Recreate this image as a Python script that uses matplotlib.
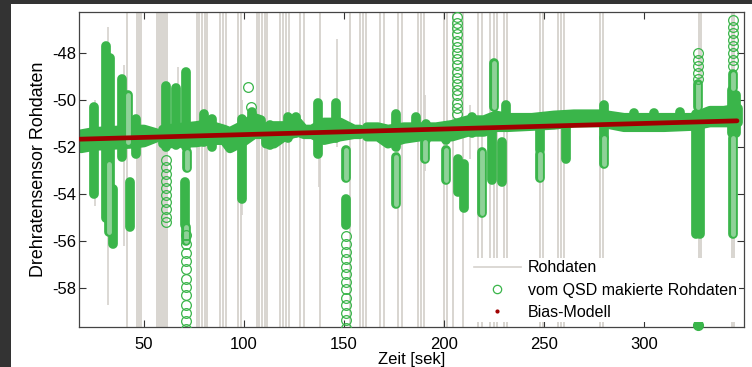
import numpy as np
import matplotlib
matplotlib.use('Agg')
import matplotlib.pyplot as plt
from matplotlib.lines import Line2D
from matplotlib.patches import Rectangle

plt.rcParams['font.family'] = ['Liberation Sans', 'DejaVu Sans']
plt.rcParams['axes.unicode_minus'] = False

GREEN = '#3ab54a'
GRAY = '#d6d2cd'
RED = '#a00000'

# raw data: full height spikes (time in sec)
raw_full_t = [41.5, 46.5, 47.5, 48.5, 56.5, 57.5, 58.5, 59.5, 60.5, 61.5,
              76.5, 77.5, 79, 80.5, 81.5, 88, 89.5, 91, 97, 98.5,
              106.5, 107.5, 109, 110.5, 111.5, 118, 119.5, 121, 122.5,
              128, 130, 138, 153, 158, 159.5, 161, 168, 170, 177, 179,
              187, 188.5, 190, 200, 201.5, 204.5, 209.5, 217, 219, 223,
              225, 226.5, 230, 231.5, 248, 249.5, 257, 258.5, 260, 278,
              279.5, 327.5, 328.5, 344, 345]
# raw data: partial spikes (time, low, high)
raw_part_t = [25.5, 32, 40, 67, 99, 137.5, 146.5, 190.5, 213]
raw_part_lo = [-54.5, -58.7, -56.2, -52.0, -54.9, -53.7, -52.0, -53.0, -52.5]
raw_part_hi = [-50.0, -46.9, -48.5, -48.6, -50.0, -50.0, -47.4, -49.8, -50.2]

# QSD marked data, continuous band (circle centres)
band_t = [18.5, 25, 45, 50, 56, 57.5, 59.5, 76, 80, 86, 90, 93, 100, 105,
          108.5, 109.7, 111, 115, 120, 127, 130, 134, 140, 148, 155, 158,
          159.5, 161.5, 167, 172, 180, 188, 196, 204, 212, 220, 226, 232,
          244, 255, 265, 278, 290, 300, 310, 324, 333, 340, 347]
band_lo = [-52.05, -51.95, -51.85, -51.8, -51.6, np.nan, -51.85, -51.8, -51.75,
           -51.7, -51.7, -52.05, -51.75, -51.45, -51.45, np.nan, -51.85, -51.85,
           -51.55, -51.35, -51.45, -51.45, -51.7, -51.55, -51.45, -51.45, np.nan,
           -51.55, -51.55, -51.85, -51.65, -51.55, -51.55, -51.55, -51.35, -51.35,
           -51.15, -51.15, -51.1, -51.05, -50.95, -50.95, -51.15, -51.15, -51.15,
           -51.1, -50.95, -50.95, -50.95]
band_hi = [-51.45, -51.35, -51.25, -51.25, -51.4, np.nan, -51.25, -51.1, -51.05,
           -51.15, -51.25, -51.35, -51.05, -50.75, -50.85, np.nan, -51.15, -51.1,
           -51.1, -50.95, -51.25, -51.25, -50.95, -50.95, -51.25, -51.25, np.nan,
           -51.15, -51.15, -51.25, -51.15, -51.15, -51.15, -51.05, -50.85, -50.85,
           -50.65, -50.75, -50.75, -50.65, -50.6, -50.6, -50.75, -50.75, -50.75,
           -50.75, -50.45, -50.45, -50.35]

# QSD marked data, dense filled columns (time, low, high)
col_t = [25, 31, 33, 34.5, 39, 43, 46, 61, 66, 71, 70.5, 80, 84, 99, 104,
         113, 122, 126, 137, 146, 151, 176, 186, 191, 201, 207, 210, 214,
         224, 229, 231, 248, 261, 280, 326, 328, 344, 346,
         295, 305, 318]
col_lo = [-54.0, -55.0, -54.3, -56.1, -52.4, -55.4, -52.3, -52.0, -51.9,
          -52.0, -55.3, -51.8, -52.0, -54.2, -51.5, -51.9, -51.6, -51.4,
          -52.3, -51.6, -55.3, -52.0, -51.5, -51.7, -51.7, -53.9, -54.6,
          -51.4, -53.4, -53.5, -51.0, -52.1, -52.5, -51.6, -55.7, -55.7,
          -51.4, -51.4,
          -51.0, -51.0, -51.0]
col_hi = [-50.3, -47.7, -48.2, -53.8, -49.1, -53.5, -50.8, -49.4, -49.5,
          -48.8, -53.5, -50.6, -50.8, -50.8, -50.5, -51.05, -50.7, -50.7,
          -50.1, -50.1, -54.2, -50.6, -50.7, -51.0, -51.1, -52.5, -52.7,
          -50.7, -51.2, -51.8, -50.2, -50.8, -50.8, -50.2, -50.6, -50.6,
          -49.55, -49.8,
          -50.55, -50.55, -50.5]

# QSD marked data, dense hollow columns (time, low, high)
tube_t = [32.5, 42, 71.5, 71, 151, 176, 190.5, 201, 219, 225, 248, 280,
          327, 344.5, 344.5]
tube_lo = [-55.6, -51.8, -52.9, -56.0, -53.3, -54.4, -52.5, -53.4, -54.8,
           -50.3, -53.3, -52.7, -50.3, -55.7, -49.5]
tube_hi = [-52.7, -49.8, -52.2, -55.4, -52.1, -52.4, -51.8, -52.1, -52.2,
           -48.4, -52.3, -51.6, -49.3, -51.6, -48.9]

# QSD marked data, single circles
circ_61 = [-52.55, -52.85, -53.15, -53.45, -53.75, -54.05, -54.35, -54.65,
           -54.95, -55.2]
circ_71 = [-55.75, -56.1, -56.5, -56.85, -57.2, -57.6, -57.95, -58.3, -58.7,
           -59.05, -59.4, -59.75]
circ_151 = [-55.8, -56.1, -56.45, -56.75, -57.1, -57.4, -57.75, -58.05,
            -58.4, -58.7, -59.05, -59.35, -59.7]
circ_206 = [-46.45, -46.7, -46.95, -47.2, -47.5, -47.75, -48.0, -48.25, -48.5,
            -48.8, -49.05, -49.3, -49.55, -49.8, -50.1, -50.35, -50.6]
circ_327 = [-48.0, -48.3, -48.55, -48.85, -49.1]
circ_345 = [-46.6, -46.9, -47.15, -47.45, -47.7, -48.0, -48.3, -48.55]
circ_single_t = [102, 103.5]
circ_single_v = [-49.45, -50.3]
bottom_dot = (327, -59.55)

# bias model
bias_t = [18, 346.5]
bias_v = [-51.66, -50.88]

fig = plt.figure(figsize=(7.52, 3.67), dpi=100)
fig.patch.set_facecolor('white')
# dark frame of the screenshot (left and top strips)
fig.patches.append(Rectangle((0, 0), 11 / 752, 1, transform=fig.transFigure,
                             facecolor='#333333', edgecolor='none', zorder=-1))
fig.patches.append(Rectangle((0, (367 - 4) / 367), 1, 1, transform=fig.transFigure,
                             facecolor='#333333', edgecolor='none', zorder=-1))
ax = fig.add_axes([79 / 752, 40 / 367, 665 / 752, 315 / 367])

ax.vlines(raw_full_t, -62, -44, colors=GRAY, lw=1.3, zorder=1)
ax.vlines(raw_part_t, raw_part_lo, raw_part_hi, colors=GRAY, lw=1.2, zorder=1)

D = 7
ax.fill_between(band_t, band_lo, band_hi, facecolor=GREEN, edgecolor=GREEN,
                lw=D, joinstyle='round', zorder=2)
ax.vlines(col_t, col_lo, col_hi, colors=GREEN, lw=D, capstyle='round', zorder=3)
ax.vlines(tube_t, tube_lo, tube_hi, colors=GREEN, lw=D, capstyle='round', zorder=3)
ax.vlines(tube_t, tube_lo, tube_hi, colors='#8fd298', lw=D - 3.5,
          capstyle='round', zorder=3)

circ = dict(ls='none', marker='o', ms=D, mfc='none', mec=GREEN, mew=0.9, zorder=3)
ax.plot([61] * len(circ_61), circ_61, **circ)
ax.plot([71] * len(circ_71), circ_71, **circ)
ax.plot([151] * len(circ_151), circ_151, **circ)
ax.plot([206.5] * len(circ_206), circ_206, **circ)
ax.plot([327] * len(circ_327), circ_327, **circ)
ax.plot([344.5] * len(circ_345), circ_345, **circ)
ax.plot(circ_single_t, circ_single_v, **circ)
ax.plot([bottom_dot[0]], [bottom_dot[1]], ls='none', marker='o', ms=D,
        color=GREEN, clip_on=False, zorder=3)

ax.plot(bias_t, bias_v, color=RED, lw=3.4, solid_capstyle='round', zorder=4)

ax.set_xlim(17.5, 350)
ax.set_ylim(-59.65, -46.25)
ax.set_xticks([50, 100, 150, 200, 250, 300])
ax.set_yticks([-48, -50, -52, -54, -56, -58])
ax.tick_params(direction='in', top=True, right=True, length=5, labelsize=12,
               color='#333333')
ax.tick_params(axis='y', pad=2)
ax.tick_params(axis='x', pad=7)
for s in ax.spines.values():
    s.set_color('#444444')
    s.set_linewidth(0.9)
ax.set_xlabel('Zeit [sek]', fontsize=12, labelpad=0)
ax.set_ylabel('Drehratensensor Rohdaten', fontsize=12.9, labelpad=4)

handles = [Line2D([], [], color=GRAY, lw=1.2),
           Line2D([], [], ls='none', marker='o', ms=6, mfc='none', mec=GREEN, mew=0.9),
           Line2D([], [], ls='none', marker='.', ms=4, color=RED)]
leg = ax.legend(handles, ['Rohdaten', 'vom QSD makierte Rohdaten', 'Bias-Modell'],
                loc='lower right', fontsize=11.5, frameon=True, fancybox=False,
                framealpha=1, facecolor='white', edgecolor='none',
                borderaxespad=0.3, borderpad=0.15, handlelength=2.9,
                handletextpad=0.45, labelspacing=0.45)
leg.set_zorder(5)

fig.savefig('out.png', dpi=100, facecolor=fig.get_facecolor())
